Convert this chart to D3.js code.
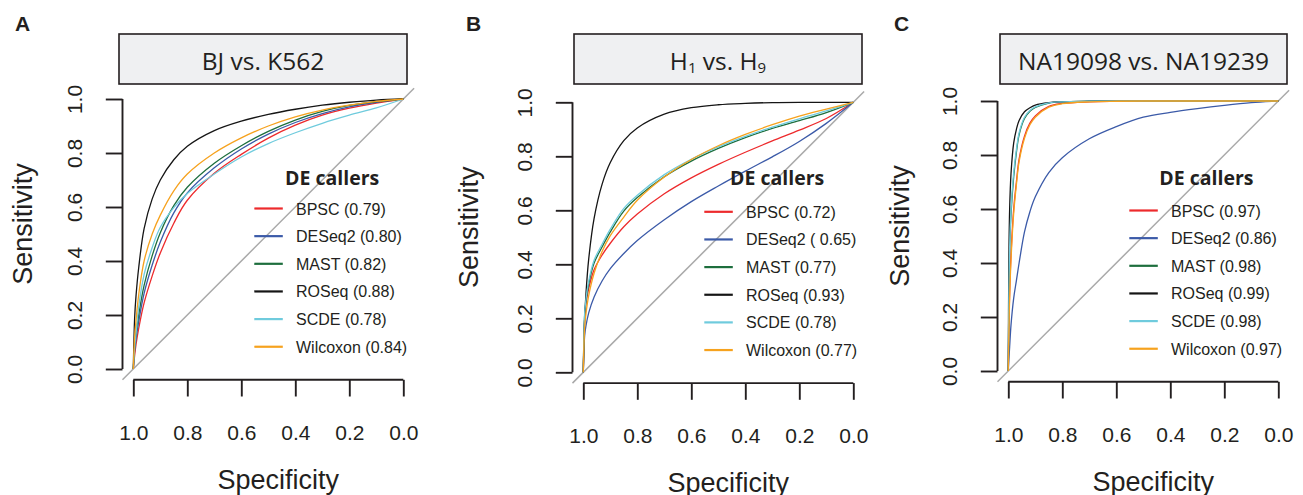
<!DOCTYPE html>
<html>
  <head>
    <title>ROC curves of DE callers</title>
    <meta charset="utf-8">
    <script src="https://d3js.org/d3.v7.min.js"></script>
    <style>
    body { margin: 0; background: #fff; }
    svg { display: block; }
    .tick-label, .axis-title, .legend-text {
      font-family: "Liberation Sans", Arial, Helvetica, sans-serif;
      fill: #231f20;
    }
    .panel-title, .legend-head {
      font-family: "Open Sans", "Noto Sans", sans-serif;
      fill: #231f20;
    }
    .panel-letter {
      font-family: "Liberation Sans", Arial, sans-serif;
      font-weight: bold;
      font-size: 21px;
      fill: #231f20;
    }
    </style>
  </head>
  <body>
    <script>

      // ---- data ----
      var methods = ["BPSC", "DESeq2", "MAST", "ROSeq", "SCDE", "Wilcoxon"];
      var axisTicks = [1.0, 0.8, 0.6, 0.4, 0.2, 0.0];

      // AUC labels as printed in each legend
      var aucBJ = ["0.79", "0.80", "0.82", "0.88", "0.78", "0.84"];
      var aucH  = ["0.72", " 0.65", "0.77", "0.93", "0.78", "0.77"];
      var aucNA = ["0.97", "0.86", "0.98", "0.99", "0.98", "0.97"];

      // false positive rate (1 - specificity) where sensitivity was read
      var fprGrid   = [0, 0.005, 0.01, 0.02, 0.04, 0.07, 0.1, 0.15, 0.2, 0.3, 0.4, 0.5, 0.6, 0.7, 0.8, 0.9, 1];
      var fprGridNA = [0, 0.002, 0.005, 0.01, 0.02, 0.03, 0.04, 0.06, 0.08, 0.1, 0.15, 0.2, 0.3, 0.4, 0.5, 0.6, 0.7, 0.8, 0.9, 1];

      // sensitivity, one row per method (same order as methods)
      var sensBJ = [
        [0, 0.05, 0.09, 0.15, 0.245, 0.345, 0.43, 0.54, 0.625, 0.725, 0.795, 0.855, 0.903, 0.94, 0.966, 0.985, 1],
        [0, 0.07, 0.11, 0.175, 0.28, 0.385, 0.47, 0.578, 0.652, 0.745, 0.815, 0.87, 0.913, 0.946, 0.971, 0.988, 1],
        [0, 0.08, 0.13, 0.20, 0.31, 0.42, 0.505, 0.605, 0.673, 0.762, 0.827, 0.88, 0.922, 0.954, 0.976, 0.99, 1],
        [0, 0.19, 0.27, 0.375, 0.52, 0.63, 0.70, 0.775, 0.825, 0.883, 0.918, 0.943, 0.962, 0.977, 0.988, 0.996, 1],
        [0, 0.08, 0.13, 0.23, 0.35, 0.45, 0.525, 0.598, 0.65, 0.722, 0.785, 0.835, 0.875, 0.91, 0.94, 0.967, 1],
        [0, 0.12, 0.18, 0.275, 0.40, 0.50, 0.57, 0.66, 0.722, 0.80, 0.856, 0.90, 0.934, 0.959, 0.977, 0.991, 1]
      ];
      var sensH = [
        [0, 0.196, 0.255, 0.31, 0.38, 0.435, 0.478, 0.539, 0.586, 0.661, 0.72, 0.77, 0.815, 0.857, 0.897, 0.94, 1],
        [0, 0.136, 0.173, 0.22, 0.279, 0.339, 0.384, 0.44, 0.488, 0.565, 0.632, 0.69, 0.745, 0.798, 0.855, 0.922, 1],
        [0, 0.211, 0.264, 0.327, 0.405, 0.465, 0.52, 0.597, 0.647, 0.724, 0.782, 0.829, 0.869, 0.903, 0.932, 0.962, 1],
        [0, 0.196, 0.293, 0.419, 0.57, 0.698, 0.777, 0.858, 0.905, 0.956, 0.98, 0.991, 0.996, 0.999, 1, 1, 1],
        [0, 0.219, 0.272, 0.337, 0.415, 0.475, 0.53, 0.607, 0.656, 0.732, 0.789, 0.835, 0.874, 0.908, 0.939, 0.968, 1],
        [0, 0.167, 0.218, 0.284, 0.367, 0.448, 0.506, 0.575, 0.637, 0.723, 0.788, 0.839, 0.881, 0.917, 0.949, 0.975, 1]
      ];
      var sensNA = [
        [0, 0.16, 0.29, 0.43, 0.60, 0.70, 0.785, 0.87, 0.918, 0.945, 0.98, 0.991, 0.997, 0.999, 1, 1, 1, 1, 1, 1],
        [0, 0.04, 0.09, 0.17, 0.27, 0.335, 0.40, 0.515, 0.59, 0.645, 0.735, 0.79, 0.86, 0.905, 0.94, 0.958, 0.972, 0.984, 0.994, 1],
        [0, 0.25, 0.45, 0.58, 0.72, 0.81, 0.875, 0.935, 0.962, 0.976, 0.992, 0.997, 0.999, 1, 1, 1, 1, 1, 1, 1],
        [0, 0.40, 0.60, 0.73, 0.845, 0.895, 0.928, 0.96, 0.975, 0.985, 0.994, 0.997, 0.999, 1, 1, 1, 1, 1, 1, 1],
        [0, 0.26, 0.46, 0.595, 0.735, 0.82, 0.882, 0.94, 0.965, 0.978, 0.993, 0.997, 0.999, 1, 1, 1, 1, 1, 1, 1],
        [0, 0.14, 0.27, 0.41, 0.585, 0.69, 0.775, 0.862, 0.912, 0.94, 0.977, 0.99, 0.997, 0.999, 1, 1, 1, 1, 1, 1]
      ];

      // ---- setup ----
      var w = 1303, h = 495;
      var ink = "#231f20";
      var colors = ["#ed2a2c", "#3b5aa8", "#1d6e3d", "#151515", "#6fcbdd", "#f6a21e"];
      var frame = 291.6;   // plot region incl. R's 4% extension on each side

      var panels = [
        { letter: "A", letterX: 15, title: [["BJ vs. K562", 0]], fpr: fprGrid, sens: sensBJ, auc: aucBJ,
          left: 122.5, top: 88.2, box: [119, 407], headX: 151.7, yTitleX: 32 },
        { letter: "B", letterX: 466, title: [["H", 0], ["1", 1], [" vs. H", 0], ["9", 1]], fpr: fprGrid, sens: sensH, auc: aucH,
          left: 572.5, top: 91.5, box: [574, 862], headX: 146.7, yTitleX: 478 },
        { letter: "C", letterX: 894, title: [["NA19098 vs. NA19239", 0]], fpr: fprGridNA, sens: sensNA, auc: aucNA,
          left: 997.5, top: 90.2, box: [1000, 1287], headX: 151, yTitleX: 909 }
      ];

      var svg = d3.select("body")
          .append("svg")
          .attr("width", w)
          .attr("height", h);

      panels.forEach(function(p) {
        var g = svg.append("g");
        var x = d3.scaleLinear().domain([1.04, -0.04]).range([p.left, p.left + frame]);
        var y = d3.scaleLinear().domain([-0.04, 1.04]).range([p.top + frame, p.top]);

        // panel letter
        g.append("text").attr("class", "panel-letter")
          .attr("x", p.letterX).attr("y", 31).text(p.letter);

        // title strip
        g.append("rect")
          .attr("x", p.box[0]).attr("y", 34)
          .attr("width", p.box[1] - p.box[0]).attr("height", 50)
          .attr("fill", "#eff0f2").attr("stroke", ink).attr("stroke-width", 1.6);
        var tt = g.append("text").attr("class", "panel-title")
          .attr("x", (p.box[0] + p.box[1]) / 2).attr("y", 70)
          .attr("text-anchor", "middle").style("font-size", "24.5px");
        p.title.forEach(function(part, i) {
          var prevSub = i > 0 && p.title[i - 1][1];
          tt.append("tspan")
            .attr("dy", part[1] ? 3 : (prevSub ? -3 : 0))
            .style("font-size", part[1] ? "15px" : null)
            .text(part[0]);
        });

        // chance diagonal
        g.append("line")
          .attr("x1", x(1.04)).attr("y1", y(-0.04))
          .attr("x2", x(-0.04)).attr("y2", y(1.04))
          .attr("stroke", "#a9a9a9").attr("stroke-width", 1.5);

        // x axis (specificity, reversed)
        var xAxis = d3.axisBottom(x).tickValues(axisTicks).tickSize(16.7).tickSizeOuter(0)
            .tickFormat(d3.format(".1f"));
        var gx = g.append("g").attr("transform", "translate(0," + (p.top + frame) + ")").call(xAxis);
        gx.select(".domain").remove();
        gx.append("line").attr("x1", x(1)).attr("x2", x(0))
          .attr("stroke", ink).attr("stroke-width", 1.9);
        gx.selectAll(".tick line").attr("stroke", ink).attr("stroke-width", 1.9);
        gx.selectAll(".tick text").attr("class", "tick-label")
          .attr("y", 60).attr("dy", null)
          .style("font-size", "21px").attr("fill", ink);

        // y axis (sensitivity)
        var yAxis = d3.axisLeft(y).tickValues(axisTicks).tickSize(16.7).tickSizeOuter(0)
            .tickFormat(d3.format(".1f"));
        var gy = g.append("g").attr("transform", "translate(" + p.left + ",0)").call(yAxis);
        gy.select(".domain").remove();
        gy.append("line").attr("y1", y(0)).attr("y2", y(1))
          .attr("stroke", ink).attr("stroke-width", 1.9);
        gy.selectAll(".tick line").attr("stroke", ink).attr("stroke-width", 1.9);
        gy.selectAll(".tick text").attr("class", "tick-label")
          .attr("x", 0).attr("dy", null)
          .attr("text-anchor", "middle")
          .attr("transform", "translate(-41,0) rotate(-90)")
          .style("font-size", "21px").attr("fill", ink);

        // axis titles
        g.append("text").attr("class", "axis-title")
          .attr("x", p.left + frame / 2 + 10).attr("y", p.top + frame + 109)
          .attr("text-anchor", "middle").style("font-size", "27px")
          .text("Specificity");
        g.append("text").attr("class", "axis-title")
          .attr("transform", "translate(" + p.yTitleX + "," + (p.top + frame / 2 - 10) + ") rotate(-90)")
          .attr("text-anchor", "middle").style("font-size", "27px")
          .text("Sensitivity");

        // ROC curves
        var line = d3.line()
            .x(function(d) { return x(1 - d[0]); })
            .y(function(d) { return y(d[1]); })
            .curve(d3.curveCatmullRom.alpha(0.5));
        methods.forEach(function(m, i) {
          var pts = p.fpr.map(function(f, j) { return [f, p.sens[i][j]]; });
          g.append("path").datum(pts)
            .attr("d", line)
            .attr("fill", "none")
            .attr("stroke", colors[i])
            .attr("stroke-width", 1.3);
        });

        // legend
        var x0 = x(1), y1 = y(1);
        g.append("text").attr("class", "legend-head")
          .attr("x", x0 + p.headX).attr("y", 185)
          .style("font-size", "19.5px").style("font-weight", "bold")
          .text("DE callers");
        methods.forEach(function(m, i) {
          var ly = y1 + 109.5 + i * 27.65;
          g.append("line")
            .attr("x1", x0 + 121).attr("x2", x0 + 149.5)
            .attr("y1", ly).attr("y2", ly)
            .attr("stroke", colors[i]).attr("stroke-width", 2.2);
          g.append("text").attr("class", "legend-text")
            .attr("x", x0 + 162.7).attr("y", ly + 6)
            .style("font-size", "16px").attr("fill", "#333")
            .text(m + " (" + p.auc[i] + ")");
        });
      });

    </script>
  </body>
</html>
